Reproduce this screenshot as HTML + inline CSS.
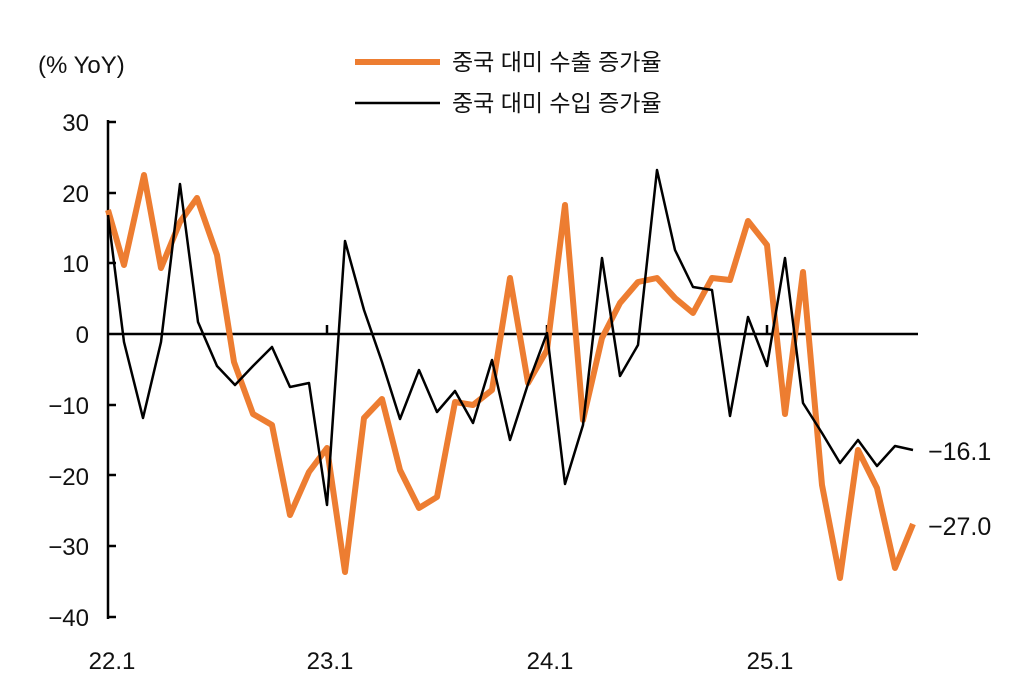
<!DOCTYPE html>
<html><head><meta charset="utf-8"><style>
html,body{margin:0;padding:0;background:#fff;}
svg text{font-family:"Liberation Sans","Noto Sans CJK KR",sans-serif;fill:#111;}
</style></head><body>
<svg width="1020" height="689" viewBox="0 0 1020 689" xmlns="http://www.w3.org/2000/svg">
<text x="38" y="73" font-size="24">(% YoY)</text>
<line x1="355" y1="62" x2="440" y2="62" stroke="#ED7D31" stroke-width="6"/>
<text x="452" y="70" font-size="23">중국 대미 수출 증가율</text>
<line x1="355" y1="103" x2="440" y2="103" stroke="#000" stroke-width="2.5"/>
<text x="452" y="111" font-size="23">중국 대미 수입 증가율</text>
<g font-size="24" text-anchor="end">
<text x="89" y="131">30</text><text x="89" y="202">20</text><text x="89" y="272">10</text>
<text x="89" y="343">0</text><text x="89" y="414">−10</text><text x="89" y="485">−20</text>
<text x="89" y="555">−30</text><text x="89" y="626">−40</text>
</g>
<line x1="108" y1="120" x2="108" y2="619" stroke="#000" stroke-width="2.5"/>
<g stroke="#000" stroke-width="2.5">
<line x1="108" y1="122" x2="116" y2="122"/><line x1="108" y1="193" x2="116" y2="193"/>
<line x1="108" y1="263" x2="116" y2="263"/><line x1="108" y1="405" x2="116" y2="405"/>
<line x1="108" y1="475" x2="116" y2="475"/><line x1="108" y1="546" x2="116" y2="546"/>
<line x1="108" y1="617" x2="116" y2="617"/>
<line x1="327" y1="325" x2="327" y2="334"/><line x1="547" y1="325" x2="547" y2="334"/><line x1="767" y1="325" x2="767" y2="334"/>
</g>
<line x1="108" y1="334" x2="918" y2="334" stroke="#000" stroke-width="2.5"/>
<g font-size="24" text-anchor="middle">
<text x="112" y="669">22.1</text><text x="330" y="669">23.1</text><text x="550" y="669">24.1</text><text x="770" y="669">25.1</text>
</g>
<polyline fill="none" stroke="#ED7D31" stroke-width="6" stroke-linejoin="round" points="108,210 124,265 144,175 161,268 180,222 197,198 217,255 234,362 253,414 272,425 290,515 309,472 327,448 345,572 364,418 382,399 400,470 419,508 437,497 455,402 473,405 492,390 510,278 528,383 547,350 565,205 583,420 602,338 620,303 638,282 657,278 675,298 693,313 712,278 730,280 748,221 767,245 785,414 803,272 822,485 840,578 858,450 877,488 895,568 913,524"/>
<polyline fill="none" stroke="#000" stroke-width="2.5" stroke-linejoin="round" points="108,215 124,342 143,418 161,342 180,184 198,322 217,366 235,385 253,366 272,347 290,387 309,383 327,505 345,241 364,310 382,362 400,419 419,370 437,412 455,391 473,423 492,360 510,440 528,384 547,333 565,484 583,425 602,258 620,376 638,345 657,170 675,250 693,287 712,290 730,416 748,317 767,366 785,258 803,403 822,433 840,463 858,440 877,466 895,446 913,450"/>
<text x="928" y="460" font-size="25">−16.1</text>
<text x="928" y="535" font-size="25">−27.0</text>
</svg>
</body></html>
